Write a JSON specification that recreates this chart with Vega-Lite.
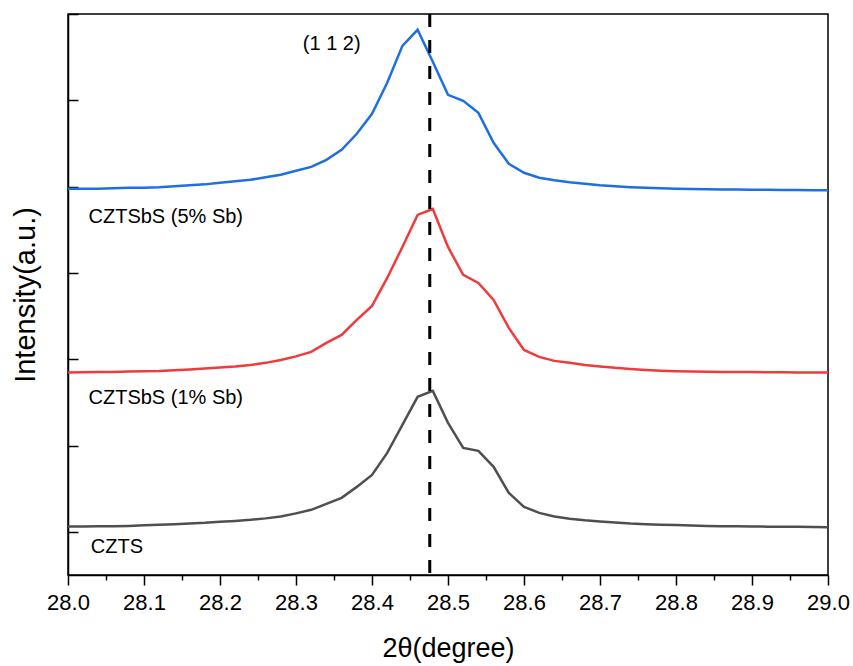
{
  "$schema": "https://vega.github.io/schema/vega-lite/v6.json",
  "width": 760,
  "height": 561,
  "autosize": {"type": "none"},
  "padding": {"left": 68, "top": 14, "right": 25, "bottom": 91},
  "background": "white",
  "config": {
    "view": {"stroke": "black", "strokeWidth": 1.5},
    "font": "Liberation Sans",
    "axis": {"grid": false, "domainColor": "black", "domainWidth": 1.5, "tickColor": "black", "tickWidth": 1.5, "labelColor": "black", "titleColor": "black", "labelFont": "Liberation Sans", "titleFont": "Liberation Sans", "titleFontWeight": "normal"}
  },
  "datasets": {
    "xrd": [
      {"s":"5%","t":28.00,"i":3974},{"s":"5%","t":28.02,"i":3974},{"s":"5%","t":28.04,"i":3974},{"s":"5%","t":28.06,"i":3980},{"s":"5%","t":28.08,"i":3986},{"s":"5%","t":28.10,"i":3986},{"s":"5%","t":28.12,"i":3992},{"s":"5%","t":28.14,"i":4003},{"s":"5%","t":28.16,"i":4015},{"s":"5%","t":28.18,"i":4026},{"s":"5%","t":28.20,"i":4044},{"s":"5%","t":28.22,"i":4061},{"s":"5%","t":28.24,"i":4079},{"s":"5%","t":28.26,"i":4108},{"s":"5%","t":28.28,"i":4137},{"s":"5%","t":28.30,"i":4183},{"s":"5%","t":28.32,"i":4229},{"s":"5%","t":28.34,"i":4310},{"s":"5%","t":28.36,"i":4426},{"s":"5%","t":28.38,"i":4612},{"s":"5%","t":28.40,"i":4843},{"s":"5%","t":28.42,"i":5203},{"s":"5%","t":28.44,"i":5631},{"s":"5%","t":28.46,"i":5817},{"s":"5%","t":28.48,"i":5446},{"s":"5%","t":28.50,"i":5063},{"s":"5%","t":28.52,"i":4994},{"s":"5%","t":28.54,"i":4855},{"s":"5%","t":28.56,"i":4507},{"s":"5%","t":28.58,"i":4264},{"s":"5%","t":28.60,"i":4160},{"s":"5%","t":28.62,"i":4102},{"s":"5%","t":28.64,"i":4073},{"s":"5%","t":28.66,"i":4050},{"s":"5%","t":28.68,"i":4032},{"s":"5%","t":28.70,"i":4015},{"s":"5%","t":28.72,"i":4003},{"s":"5%","t":28.74,"i":3994},{"s":"5%","t":28.76,"i":3986},{"s":"5%","t":28.78,"i":3980},{"s":"5%","t":28.80,"i":3974},{"s":"5%","t":28.82,"i":3971},{"s":"5%","t":28.84,"i":3969},{"s":"5%","t":28.86,"i":3967},{"s":"5%","t":28.88,"i":3966},{"s":"5%","t":28.90,"i":3964},{"s":"5%","t":28.92,"i":3963},{"s":"5%","t":28.94,"i":3961},{"s":"5%","t":28.96,"i":3960},{"s":"5%","t":28.98,"i":3958},{"s":"5%","t":29.00,"i":3957},
      {"s":"1%","t":28.00,"i":1847},{"s":"1%","t":28.02,"i":1850},{"s":"1%","t":28.04,"i":1851},{"s":"1%","t":28.06,"i":1853},{"s":"1%","t":28.08,"i":1857},{"s":"1%","t":28.10,"i":1861},{"s":"1%","t":28.12,"i":1865},{"s":"1%","t":28.14,"i":1873},{"s":"1%","t":28.16,"i":1882},{"s":"1%","t":28.18,"i":1894},{"s":"1%","t":28.20,"i":1905},{"s":"1%","t":28.22,"i":1917},{"s":"1%","t":28.24,"i":1934},{"s":"1%","t":28.26,"i":1958},{"s":"1%","t":28.28,"i":1992},{"s":"1%","t":28.30,"i":2033},{"s":"1%","t":28.32,"i":2085},{"s":"1%","t":28.34,"i":2189},{"s":"1%","t":28.36,"i":2282},{"s":"1%","t":28.38,"i":2456},{"s":"1%","t":28.40,"i":2618},{"s":"1%","t":28.42,"i":2942},{"s":"1%","t":28.44,"i":3301},{"s":"1%","t":28.46,"i":3672},{"s":"1%","t":28.48,"i":3741},{"s":"1%","t":28.50,"i":3301},{"s":"1%","t":28.52,"i":2977},{"s":"1%","t":28.54,"i":2884},{"s":"1%","t":28.56,"i":2687},{"s":"1%","t":28.58,"i":2363},{"s":"1%","t":28.60,"i":2108},{"s":"1%","t":28.62,"i":2027},{"s":"1%","t":28.64,"i":1981},{"s":"1%","t":28.66,"i":1958},{"s":"1%","t":28.68,"i":1934},{"s":"1%","t":28.70,"i":1917},{"s":"1%","t":28.72,"i":1900},{"s":"1%","t":28.74,"i":1888},{"s":"1%","t":28.76,"i":1876},{"s":"1%","t":28.78,"i":1867},{"s":"1%","t":28.80,"i":1861},{"s":"1%","t":28.82,"i":1858},{"s":"1%","t":28.84,"i":1856},{"s":"1%","t":28.86,"i":1853},{"s":"1%","t":28.88,"i":1852},{"s":"1%","t":28.90,"i":1851},{"s":"1%","t":28.92,"i":1850},{"s":"1%","t":28.94,"i":1849},{"s":"1%","t":28.96,"i":1847},{"s":"1%","t":28.98,"i":1846},{"s":"1%","t":29.00,"i":1845},
      {"s":"0%","t":28.00,"i":61},{"s":"0%","t":28.02,"i":63},{"s":"0%","t":28.04,"i":64},{"s":"0%","t":28.06,"i":66},{"s":"0%","t":28.08,"i":69},{"s":"0%","t":28.10,"i":75},{"s":"0%","t":28.12,"i":81},{"s":"0%","t":28.14,"i":87},{"s":"0%","t":28.16,"i":96},{"s":"0%","t":28.18,"i":104},{"s":"0%","t":28.20,"i":116},{"s":"0%","t":28.22,"i":127},{"s":"0%","t":28.24,"i":139},{"s":"0%","t":28.26,"i":156},{"s":"0%","t":28.28,"i":177},{"s":"0%","t":28.30,"i":214},{"s":"0%","t":28.32,"i":255},{"s":"0%","t":28.34,"i":324},{"s":"0%","t":28.36,"i":394},{"s":"0%","t":28.38,"i":521},{"s":"0%","t":28.40,"i":660},{"s":"0%","t":28.42,"i":915},{"s":"0%","t":28.44,"i":1239},{"s":"0%","t":28.46,"i":1564},{"s":"0%","t":28.48,"i":1633},{"s":"0%","t":28.50,"i":1263},{"s":"0%","t":28.52,"i":973},{"s":"0%","t":28.54,"i":938},{"s":"0%","t":28.56,"i":753},{"s":"0%","t":28.58,"i":452},{"s":"0%","t":28.60,"i":290},{"s":"0%","t":28.62,"i":220},{"s":"0%","t":28.64,"i":177},{"s":"0%","t":28.66,"i":151},{"s":"0%","t":28.68,"i":133},{"s":"0%","t":28.70,"i":119},{"s":"0%","t":28.72,"i":107},{"s":"0%","t":28.74,"i":96},{"s":"0%","t":28.76,"i":89},{"s":"0%","t":28.78,"i":83},{"s":"0%","t":28.80,"i":78},{"s":"0%","t":28.82,"i":73},{"s":"0%","t":28.84,"i":69},{"s":"0%","t":28.86,"i":66},{"s":"0%","t":28.88,"i":64},{"s":"0%","t":28.90,"i":63},{"s":"0%","t":28.92,"i":60},{"s":"0%","t":28.94,"i":59},{"s":"0%","t":28.96,"i":58},{"s":"0%","t":28.98,"i":57},{"s":"0%","t":29.00,"i":54}
    ],
    "labels": [
      {"text": "(1 1 2)", "t": 28.309, "i": 5654},
      {"text": "CZTSbS (5% Sb)", "t": 28.027, "i": 3650},
      {"text": "CZTSbS (1% Sb)", "t": 28.027, "i": 1553},
      {"text": "CZTS", "t": 28.030, "i": -174}
    ],
    "peak": [{"t": 28.476}]
  },
  "resolve": {"axis": {"x": "independent", "y": "independent"}},
  "layer": [
    {
      "data": {"name": "xrd"},
      "mark": {"type": "line", "strokeWidth": 2.5, "interpolate": "linear"},
      "encoding": {
        "x": {
          "field": "t", "type": "quantitative",
          "scale": {"domain": [28, 29], "nice": false, "zero": false},
          "axis": {"orient": "bottom", "values": [28.0, 28.1, 28.2, 28.3, 28.4, 28.5, 28.6, 28.7, 28.8, 28.9, 29.0], "format": ".1f", "tickSize": 10, "labelFontSize": 22, "labelPadding": 7, "labelFlush": false, "labelOverlap": false, "title": "2θ(degree)", "titleFontSize": 27, "titlePadding": 22}
        },
        "y": {
          "field": "i", "type": "quantitative",
          "scale": {"domain": [-500, 6000], "nice": false, "zero": false},
          "axis": {"values": [0, 1000, 2000, 3000, 4000, 5000, 6000], "labels": false, "tickSize": -10, "title": "Intensity(a.u.)", "titleFontSize": 29, "titlePadding": 27}
        },
        "color": {
          "field": "s", "type": "nominal",
          "scale": {"domain": ["5%", "1%", "0%"], "range": ["#1f6fe0", "#f03a3c", "#4f4f4f"]},
          "legend": null
        },
        "detail": {"field": "s"}
      }
    },
    {
      "data": {"name": "peak"},
      "mark": {"type": "rule", "color": "black", "strokeWidth": 3, "strokeDash": [13, 13]},
      "encoding": {
        "x": {
          "field": "t", "type": "quantitative",
          "axis": {"orient": "bottom", "values": [28.05, 28.15, 28.25, 28.35, 28.45, 28.55, 28.65, 28.75, 28.85, 28.95], "tickSize": 5, "labels": false, "domain": false, "title": null}
        }
      }
    },
    {
      "data": {"name": "labels"},
      "mark": {"type": "text", "align": "left", "baseline": "middle", "fontSize": 20, "font": "Liberation Sans", "color": "black"},
      "encoding": {
        "x": {"field": "t", "type": "quantitative", "axis": null},
        "y": {"field": "i", "type": "quantitative", "axis": null},
        "text": {"field": "text"}
      }
    }
  ]
}
